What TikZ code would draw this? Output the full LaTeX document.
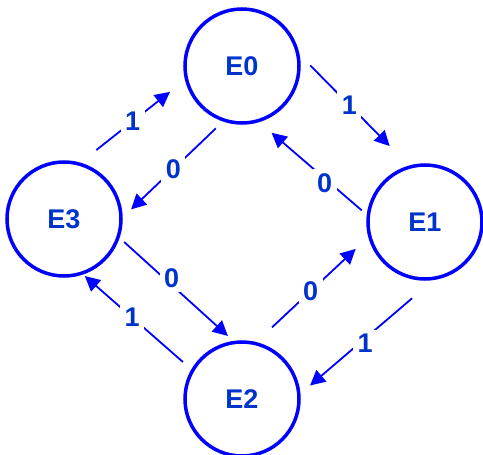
\documentclass[tikz,border=0pt]{standalone}
\usepackage{fontspec}
\setsansfont{Liberation Sans}
\usetikzlibrary{arrows.meta}
\definecolor{cLine}{HTML}{0000FF}
\definecolor{cText}{HTML}{0033CC}
\tikzset{
  state/.style={circle,draw=cLine,line width=3.5pt,minimum size=114pt,inner sep=0pt,outer sep=0pt,
    text=cText,font=\sffamily\bfseries\fontsize{27}{30}\selectfont},
  trans/.style={-{Triangle[length=15pt,width=15pt]},line width=1.8pt,cLine},
  lbl/.style={fill=white,inner sep=4.5pt,text=cText,font=\sffamily\bfseries\fontsize{27}{30}\selectfont},
}
\begin{document}
\begin{tikzpicture}[x=1pt,y=-1pt]
  \useasboundingbox (0,0) rectangle (483,455);
  % states
  \node[state] (e0) at (242,66) {E0};
  \node[state] (e1) at (425,222) {E1};
  \node[state] (e2) at (242,399) {E2};
  \node[state] (e3) at (64,219) {E3};
  % outer ring, input 1
  \draw[trans,shorten <=22.4pt,shorten >=21pt] (e3.75) -- node[lbl,pos=0.5] {1} (e0.193);
  \draw[trans,shorten <=18.5pt,shorten >=29.3pt] (e0.14) -- node[lbl,pos=0.46] {1} (e1.105);
  \draw[trans,shorten <=31.3pt,shorten >=14.7pt] (e1.281) -- node[lbl,pos=0.516,yshift=-5pt] {1} (e2.4.5);
  \draw[trans,shorten <=12.9pt,shorten >=4.3pt] (e2.150) -- node[lbl,pos=0.546] {1} (e3.288);
  % inner ring, input 0
  \draw[trans,shorten <=11.8pt,shorten >=13.9pt] (e0.252) -- node[lbl,pos=0.493] {0} (e3.0);
  \draw[trans,shorten <=8pt,shorten >=9.6pt] (e3.342) -- node[lbl,pos=0.431,xshift=3pt,yshift=4pt] {0} (e2.97);
  \draw[trans,shorten <=23.6pt,shorten >=19.2pt] (e2.77) -- node[lbl,pos=0.485] {0} (e1.194);
  \draw[trans,shorten <=8.7pt,shorten >=18.3pt] (e1.174) -- node[lbl,pos=0.394,yshift=-5pt] {0} (e0.286);
\end{tikzpicture}
\end{document}
